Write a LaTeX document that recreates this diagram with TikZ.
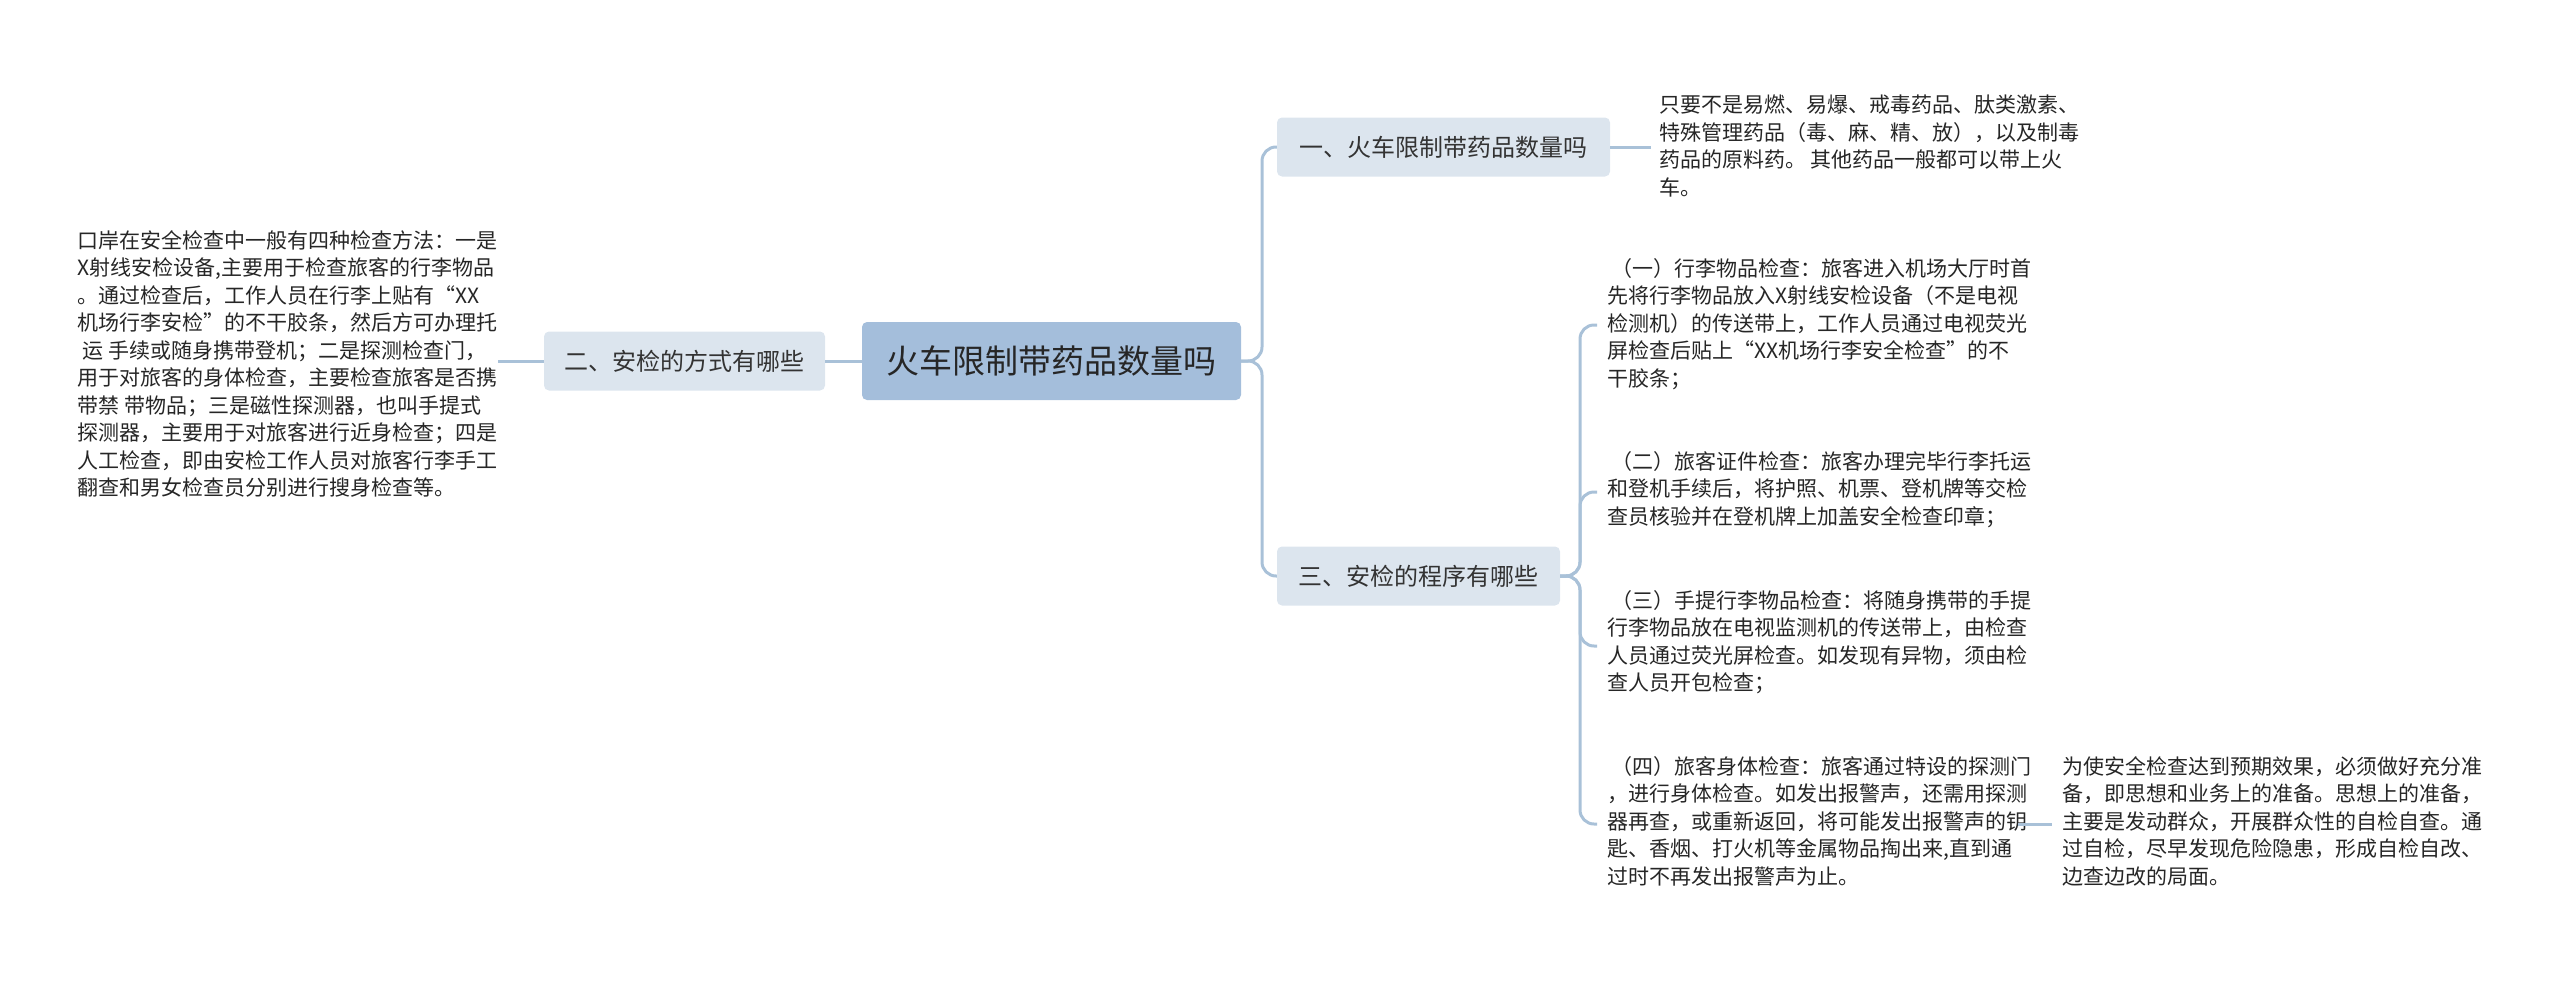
\documentclass[tikz,border=0pt]{standalone}
\usepackage{fontspec}
\setmainfont{Noto Sans CJK SC}
\begin{document}
\begin{tikzpicture}[x=1pt,y=-1pt,
  conn/.style={draw=linkc,line width=3pt,rounded corners=14pt},
  rootbox/.style={fill=rootc,rounded corners=5pt,minimum width=379pt,minimum height=78pt,font=\fontsize{33}{40}\selectfont,text=black!85},
  branch/.style={fill=brc,rounded corners=5pt,minimum height=59pt,inner xsep=12pt,font=\fontsize{24}{30}\selectfont,text=black!80},
  leaf/.style={anchor=north west,inner sep=0pt,align=left,font=\fontsize{21}{27.5}\selectfont,text=black!85}]
\definecolor{linkc}{HTML}{A9C1D8}
\definecolor{rootc}{HTML}{A4BEDB}
\definecolor{brc}{HTML}{DCE5EE}
\useasboundingbox (0,0) rectangle (2560,983);
\node[rootbox] (root) at (1051.5,361) {火车限制带药品数量吗};
\node[branch,minimum width=333pt] (b1) at (1443.5,147) {一、火车限制带药品数量吗};
\node[branch,minimum width=281pt] (b2) at (684.5,361) {二、安检的方式有哪些};
\node[branch,minimum width=283pt] (b3) at (1418.5,576) {三、安检的程序有哪些};
\node[leaf] (l1) at (1659,95) {只要不是易燃、易爆、戒毒药品、肽类激素、\\特殊管理药品（毒、麻、精、放），以及制毒\\药品的原料药。 其他药品一般都可以带上火\\车。};
\node[leaf,anchor=north east] (l2) at (498,230) {口岸在安全检查中一般有四种检查方法：一是\\X射线安检设备,主要用于检查旅客的行李物品\\。通过检查后，工作人员在行李上贴有“XX\\机场行李安检”的不干胶条，然后方可办理托\\\ 运 手续或随身携带登机；二是探测检查门，\\用于对旅客的身体检查，主要检查旅客是否携\\带禁 带物品；三是磁性探测器，也叫手提式\\探测器，主要用于对旅客进行近身检查；四是\\人工检查，即由安检工作人员对旅客行李手工\\翻查和男女检查员分别进行搜身检查等。};
\node[leaf] (s1) at (1607,258) {\ （一）行李物品检查：旅客进入机场大厅时首\\先将行李物品放入X射线安检设备（不是电视\\检测机）的传送带上，工作人员通过电视荧光\\屏检查后贴上“XX机场行李安全检查”的不\\干胶条；};
\node[leaf] (s2) at (1607,451) {\ （二）旅客证件检查：旅客办理完毕行李托运\\和登机手续后，将护照、机票、登机牌等交检\\查员核验并在登机牌上加盖安全检查印章；};
\node[leaf] (s3) at (1607,590) {\ （三）手提行李物品检查：将随身携带的手提\\行李物品放在电视监测机的传送带上，由检查\\人员通过荧光屏检查。如发现有异物，须由检\\查人员开包检查；};
\node[leaf] (s4) at (1607,756) {\ （四）旅客身体检查：旅客通过特设的探测门\\，进行身体检查。如发出报警声，还需用探测\\器再查，或重新返回，将可能发出报警声的钥\\匙、香烟、打火机等金属物品掏出来,直到通\\过时不再发出报警声为止。};
\node[leaf] (s5) at (2062,756) {为使安全检查达到预期效果，必须做好充分准\\备，即思想和业务上的准备。思想上的准备，\\主要是发动群众，开展群众性的自检自查。通\\过自检，尽早发现危险隐患，形成自检自改、\\边查边改的局面。};
\coordinate (c1) at (1597,325);
\coordinate (c2) at (1597,492);
\coordinate (c3) at (1597,646);
\coordinate (c4) at (1597,824);
\draw[conn] (root.east) -| (1262,147) -- (b1.west);
\draw[conn] (root.east) -| (1262,576) -- (b3.west);
\draw[conn] (root.west) -- (b2.east);
\draw[conn] (b2.west) -- (498,361);
\draw[conn] (b1.east) -- (1651,147);
\foreach \c in {c1,c2,c3,c4} \draw[conn] (b3.east) -| (1580,0 |- \c) -- (\c);
\draw[conn] (2018,824) -- (2052,824);
\end{tikzpicture}
\end{document}
